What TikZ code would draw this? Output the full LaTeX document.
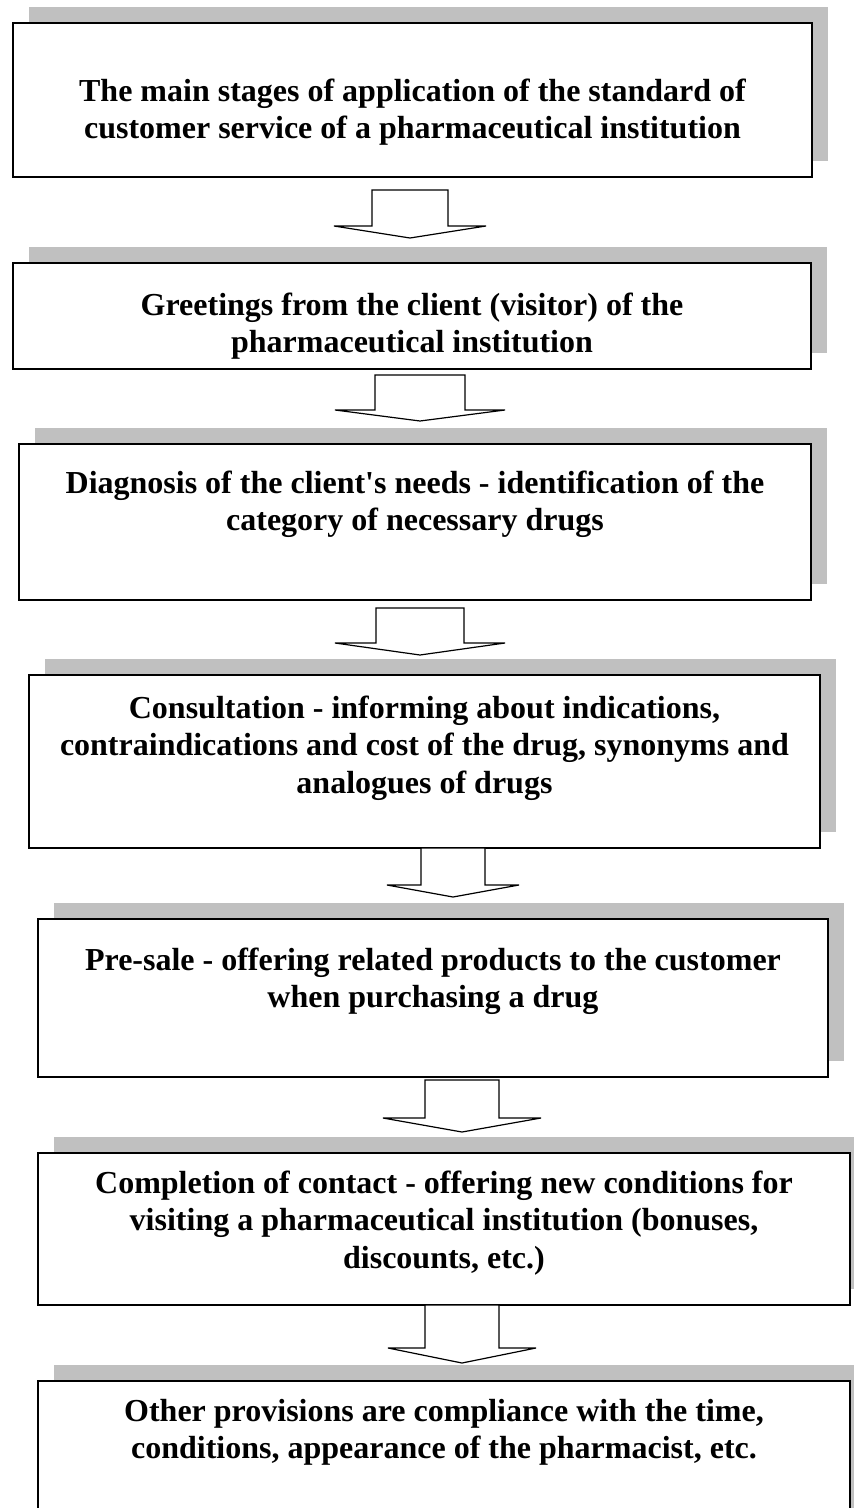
\documentclass[tikz,border=0pt]{standalone}
\usepackage{fontspec}
\setmainfont{Liberation Serif}[Ligatures=TeXOff]
\usetikzlibrary{shadows,calc}
\definecolor{shadowgray}{HTML}{C0C0C0}
\tikzset{
  stagebox/.style={draw=black, line width=1.6pt, fill=white, inner sep=0pt, outer sep=0pt,
    drop shadow={shadow xshift=16pt, shadow yshift=16pt, fill=shadowgray, opacity=1}},
  stagetext/.style={anchor=base, inner sep=0pt, outer sep=0pt},
  blockarr/.style={draw=black, line width=1.2pt, fill=white, line join=miter}
}
\newcommand\stagenode[5]{% name, left, top, right, bottom
  \node[stagebox, minimum width={(#4-#2)*1pt}, minimum height={(#5-#3)*1pt}]
    (#1) at ({(#2+#4)/2},{-(#3+#5)/2}) {};}
\newcommand\stagetxt[4]{% name, box, offset, text
  \node[stagetext] (#1) at ($(#2.north)+(0,-#3)$)
    {\parbox[t]{840pt}{\centering\fontsize{32}{37.5}\selectfont\bfseries #4}};}
\newcommand\blockarrow[7]{% name, cx, top, base, tip, shaft half, head half
  \coordinate (#1) at (#2,-#5);
  \draw[blockarr] (#2-#6,-#3) -- (#2-#6,-#4) -- (#2-#7,-#4) -- (#1)
    -- (#2+#7,-#4) -- (#2+#6,-#4) -- (#2+#6,-#3) -- cycle;}
\begin{document}
\begin{tikzpicture}[x=1pt,y=1pt]
\useasboundingbox (0,0) rectangle (854,-1508);
\clip (0,0) rectangle (854,-1508);
\stagenode{b1}{13}{23}{812}{177}
\stagenode{b2}{13}{263}{811}{369}
\stagenode{b3}{19}{444}{811}{600}
\stagenode{b4}{29}{675}{820}{848}
\stagenode{b5}{38}{919}{828}{1077}
\stagenode{b6}{38}{1153}{850}{1305}
\stagenode{b7}{38}{1381}{850}{1540}
\stagetxt{t1}{b1}{78}{The main stages of application of the standard of\\customer service of a pharmaceutical institution}
\stagetxt{t2}{b2}{52}{Greetings from the client (visitor) of the\\pharmaceutical institution}
\stagetxt{t3}{b3}{49}{Diagnosis of the client's needs - identification of the\\category of necessary drugs}
\stagetxt{t4}{b4}{43}{Consultation - informing about indications,\\contraindications and cost of the drug, synonyms and\\analogues of drugs}
\stagetxt{t5}{b5}{51}{Pre-sale - offering related products to the customer\\when purchasing a drug}
\stagetxt{t6}{b6}{40}{Completion of contact - offering new conditions for\\visiting a pharmaceutical institution (bonuses,\\discounts, etc.)}
\stagetxt{t7}{b7}{40}{Other provisions are compliance with the time,\\conditions, appearance of the pharmacist, etc.}
\blockarrow{a1}{410}{190}{226}{238}{38}{76}
\blockarrow{a2}{420}{375}{410}{421}{45}{85}
\blockarrow{a3}{420}{608}{643}{655}{44}{85}
\blockarrow{a4}{453}{848}{885}{897}{32}{66}
\blockarrow{a5}{462}{1080}{1118}{1132}{37}{79}
\blockarrow{a6}{462}{1305}{1348}{1363}{37}{74}
\end{tikzpicture}
\end{document}
